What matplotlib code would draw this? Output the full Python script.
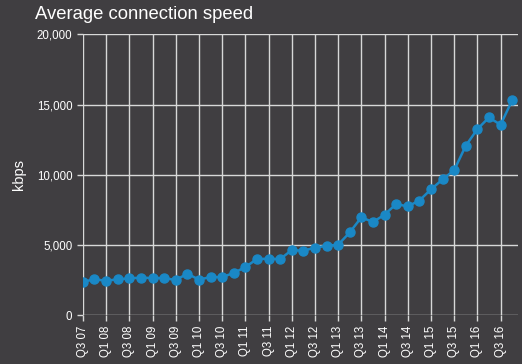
import matplotlib.pyplot as plt

plt.rcParams['font.family'] = ['Liberation Sans', 'DejaVu Sans']

# quarterly values, Q3 07 .. Q4 16
quarters = []
for y in range(7, 17):
    for q in (1, 2, 3, 4):
        if y == 7 and q < 3:
            continue
        quarters.append(f"Q{q} {y:02d}")

speed = [2390, 2560, 2460, 2560, 2630, 2680, 2650, 2650, 2510, 2960,
         2540, 2720, 2720, 3010, 3430, 4000, 4030, 4000, 4640, 4600,
         4810, 4950, 5020, 5900, 6970, 6640, 7160, 7920, 7750, 8170,
         8960, 9670, 10330, 12070, 13250, 14080, 13560, 15310]

tick_labels = quarters[::2]

bg = '#403e41'
fig = plt.figure(figsize=(5.22, 3.64), dpi=100, facecolor=bg)
ax = fig.add_axes([0.1588, 0.1338, 0.8335, 0.772], facecolor=bg)

x = list(range(len(speed)))
ax.plot(x, speed, color='#1a88c6', lw=1.8, marker='o', ms=6.5, zorder=3)

ax.set_xlim(0, 37.5)
ax.set_ylim(0, 20000)
ax.set_xticks(x[::2])
ax.set_xticklabels(tick_labels, rotation=90)
ax.set_yticks([0, 5000, 10000, 15000, 20000])
ax.set_yticklabels(['0', '5,000', '10,000', '15,000', '20,000'])

ax.grid(True, color='#d8d8d8', lw=1)
ax.set_axisbelow(True)
for s in ax.spines.values():
    s.set_visible(False)
ax.tick_params(colors='#d8d8d8', labelcolor='white', labelsize=8.3, length=4, width=1)

ax.set_ylabel('kbps', color='white', fontsize=10.5, labelpad=8)
fig.text(0.067, 0.96, 'Average connection speed', color='white', fontsize=13.3,
         ha='left', va='center')

plt.savefig('out.png', facecolor=bg)
